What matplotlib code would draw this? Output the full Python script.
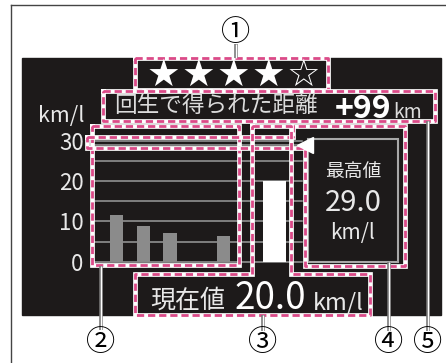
import matplotlib.pyplot as plt
from matplotlib.patches import Rectangle

plt.rcParams['font.family'] = ['Noto Sans CJK JP', 'DejaVu Sans']

history = [11.6, 8.8, 7.0, 0.0, 6.4]   # past fuel economy, km/l
current = 20.0
best = 29.0
regen_km = 99
stars = 4
star_total = 5
yticks = [0, 10, 20, 30]
grid_lines = [0, 5, 10, 15, 20, 25, 30]
unit = 'km/l'

W, H = 446, 363
fig = plt.figure(figsize=(W / 100, H / 100), dpi=100)


def px_axes(z):
    a = fig.add_axes([0, 0, 1, 1], zorder=z)
    a.set_xlim(0, W)
    a.set_ylim(H, 0)
    a.axis('off')
    a.patch.set_alpha(0)
    return a


BLACK = '#1d1a1a'
PINK = '#db4a88'
TXT = '#e8e8e8'

bg = px_axes(0)
bg.add_patch(Rectangle((22, 58), 419, 257, color=BLACK))
bg.plot([11, 11], [5, H], color='#444444', lw=1)
bg.plot([11, W], [5, 5], color='#444444', lw=1)

# bar chart
ax = fig.add_axes([92 / W, (H - 261.7) / H, (302 - 92) / W, (261.7 - 140.5) / H], zorder=1)
ax.patch.set_alpha(0)
for s in ax.spines.values():
    s.set_visible(False)
ax.set_xlim(-0.91, 6.92)
ax.set_ylim(0, 30)
for v in grid_lines:
    ax.axhline(v, color='#9a9a9a', lw=1.1, clip_on=False, zorder=1)
ax.axhline(best, color='#9a9a9a', lw=1.1, clip_on=False, zorder=1)
ax.bar(range(len(history)), history, width=0.49, color='#8b8b8b', zorder=2)
ax.bar(5.9, current, width=0.85, color='white', zorder=2)
ax.set_xticks([])
ax.set_yticks(yticks)
ax.tick_params(axis='y', length=0, pad=6, labelsize=16, labelcolor=TXT)
ax.text(-0.035, 1.2, unit, transform=ax.transAxes, ha='right', va='center',
        fontsize=15.5, color=TXT)

fg = px_axes(2)


def callout(pts):
    xs = [p[0] for p in pts] + [pts[0][0]]
    ys = [p[1] for p in pts] + [pts[0][1]]
    fg.plot(xs, ys, color='white', lw=3.4, solid_joinstyle='miter')
    fg.plot(xs, ys, color=PINK, lw=2.0, ls=(0, (2.6, 1.4)))


def leader(x, y0, y1):
    fg.plot([x, x], [y0, y1], color='#777777', lw=2.6, solid_capstyle='butt')
    fg.plot([x, x], [y0, y1], color='white', lw=1.0, solid_capstyle='butt')


# max panel
fg.add_patch(Rectangle((308, 139), 90, 123, fc=BLACK, ec='#a8a8a8', lw=1.5))
fg.text(353, 172, '最高値', ha='center', va='center', fontsize=13.5, color=TXT)
fg.text(353, 203, f'{best:.1f}', ha='center', va='center', fontsize=21, color=TXT)
fg.text(353, 233, unit, ha='center', va='center', fontsize=15, color=TXT)

# callout frames
callout([(135, 58), (328, 58), (328, 90), (135, 90)])
callout([(103, 91), (435, 91), (435, 121), (103, 121)])
callout([(92, 126), (239, 126), (239, 265), (92, 265)])
callout([(87, 137), (293, 137), (293, 126), (405, 126), (405, 266),
         (305, 266), (305, 148), (87, 148)])
callout([(252, 126), (291, 126), (291, 274), (370, 274), (370, 315),
         (135, 315), (135, 274), (252, 274)])

# max marker on top of the frames
fg.plot([7.05], [best], marker='<', ms=12, color='white', transform=ax.transData,
        clip_on=False, zorder=5)

leader(236, 44, 58)
leader(101, 266, 330)
leader(263, 315, 331)
leader(389, 262, 331)
leader(428, 121, 331)
for label, x, y in [('①', 236, 33), ('②', 101, 343), ('③', 263, 343),
                    ('④', 389, 343), ('⑤', 428, 343)]:
    fg.text(x, y, label, ha='center', va='center', fontsize=21, color='black')

# stars
for i in range(star_total):
    fg.text(163 + 35 * i, 76, '★' if i < stars else '☆', ha='center', va='center',
            fontsize=27, color='white', family='DejaVu Sans')

# regen distance
fg.text(114, 106, '回生で得られた距離', ha='left', va='center', fontsize=16.3, color='#dcdcdc')
fg.text(391, 118, f'+{regen_km}', ha='right', va='baseline', fontsize=23,
        fontweight='bold', color='white')
fg.text(393, 118, 'km', ha='left', va='baseline', fontsize=14, color='#dcdcdc')

# current value
fg.text(150, 308, '現在値', ha='left', va='baseline', fontsize=18, color=TXT)
fg.text(235, 309, f'{current:.1f}', ha='left', va='baseline', fontsize=26.5, color='white')
fg.text(313, 309, unit, ha='left', va='baseline', fontsize=17, color=TXT)

fig.savefig('out.png', dpi=100, facecolor='white')
